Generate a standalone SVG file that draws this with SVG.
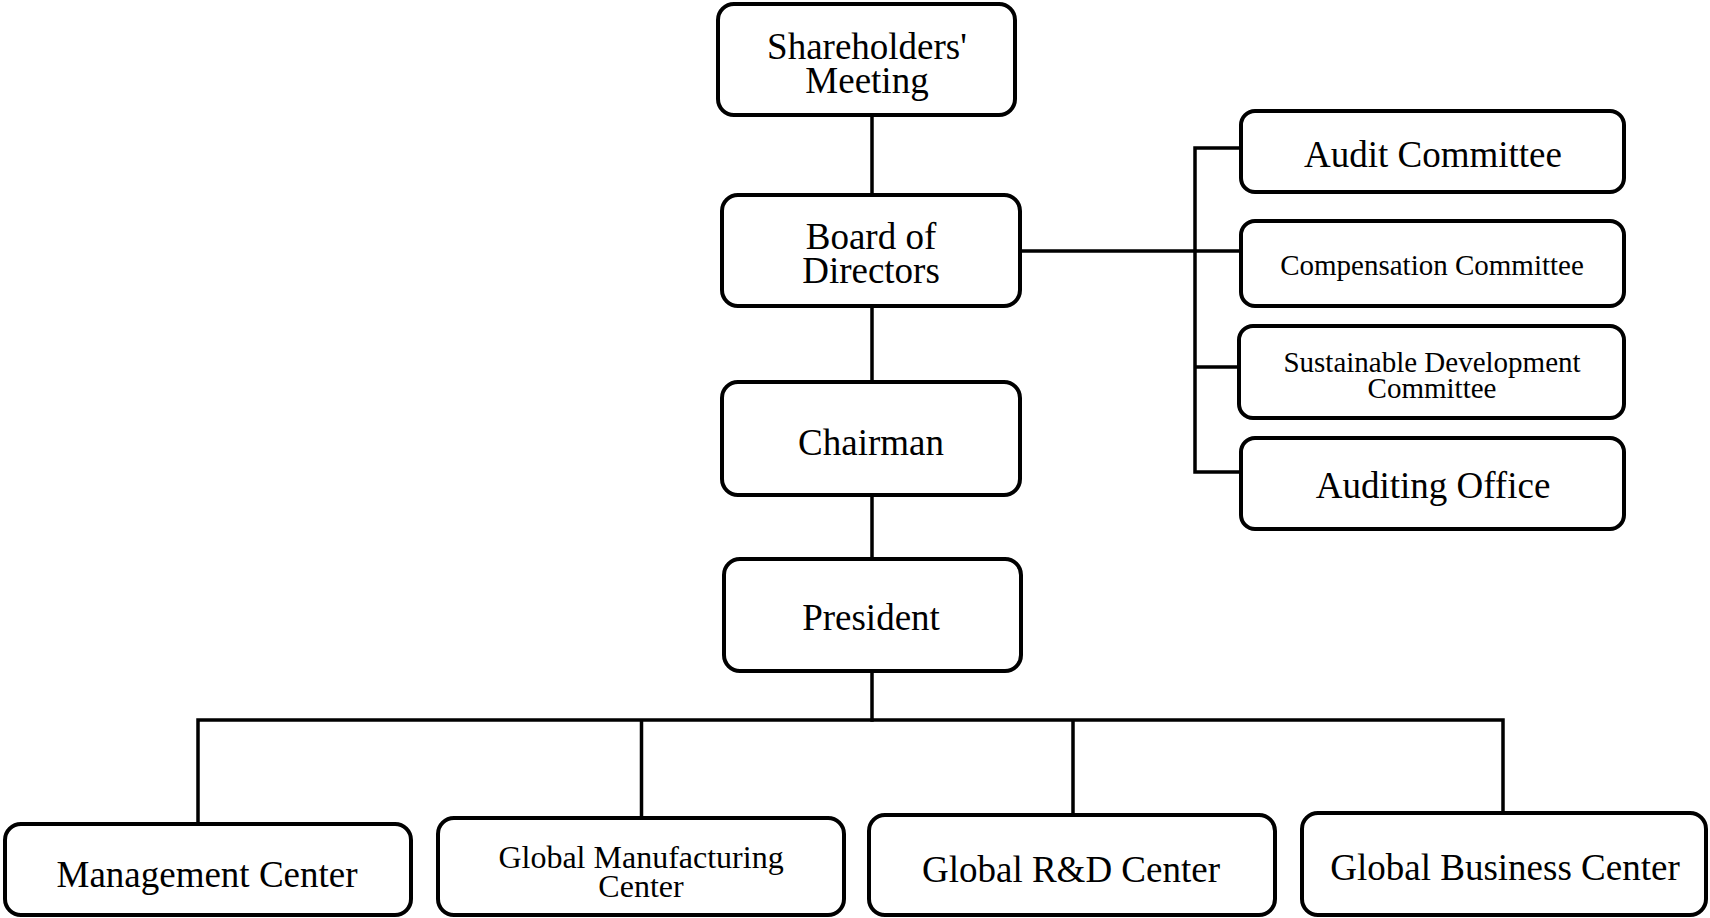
<svg xmlns="http://www.w3.org/2000/svg" width="1710" height="918" viewBox="0 0 1710 918">
<style>
  .box { fill: #ffffff; stroke: #000000; stroke-width: 4; }
  .conn { fill: none; stroke: #000000; stroke-width: 3.5; stroke-linecap: square; }
  text { font-family: "Liberation Serif", "Times New Roman", serif; fill: #000000; text-anchor: middle; }
  .big { font-size: 37px; }
  .mid { font-size: 32px; }
  .small { font-size: 29px; }
</style>
<rect width="1710" height="918" fill="#ffffff"/>
<g id="connectors">
  <path class="conn" d="M872 116 V193 M872 307 V380 M872 497 V557 M872 673 V720"/>
  <path class="conn" d="M198 720 H1503 M198 720 V822 M641.5 720 V816 M1073 720 V813 M1503 720 V811"/>
  <path class="conn" d="M1021 251 H1195 M1195 148 V472 M1195 148 H1240 M1195 251 H1240 M1195 367 H1237 M1195 472 H1240"/>
</g>
<g id="shareholders">
  <rect class="box" x="718" y="4" width="297" height="111" rx="16"/>
  <text class="big"><tspan x="867" y="59">Shareholders'</tspan><tspan x="867" y="93">Meeting</tspan></text>
</g>
<g id="board">
  <rect class="box" x="722" y="195" width="298" height="111" rx="16"/>
  <text class="big"><tspan x="871" y="249">Board of</tspan><tspan x="871" y="283">Directors</tspan></text>
</g>
<g id="chairman">
  <rect class="box" x="722" y="382" width="298" height="113" rx="16"/>
  <text class="big" x="871" y="455">Chairman</text>
</g>
<g id="president">
  <rect class="box" x="724" y="559" width="297" height="112" rx="16"/>
  <text class="big" x="871" y="630">President</text>
</g>
<g id="audit-committee">
  <rect class="box" x="1241" y="111" width="383" height="81" rx="14"/>
  <text class="big" x="1433" y="167">Audit Committee</text>
</g>
<g id="compensation-committee">
  <rect class="box" x="1241" y="221" width="383" height="85" rx="14"/>
  <text class="small" x="1432" y="275">Compensation Committee</text>
</g>
<g id="sustainable-committee">
  <rect class="box" x="1239" y="326" width="385" height="92" rx="14"/>
  <text class="small"><tspan x="1432" y="372">Sustainable Development</tspan><tspan x="1432" y="398">Committee</tspan></text>
</g>
<g id="auditing-office">
  <rect class="box" x="1241" y="438" width="383" height="91" rx="14"/>
  <text class="big" x="1433" y="498">Auditing Office</text>
</g>
<g id="management-center">
  <rect class="box" x="5" y="824" width="406" height="91" rx="16"/>
  <text class="big" x="207" y="887">Management Center</text>
</g>
<g id="manufacturing-center">
  <rect class="box" x="438" y="818" width="406" height="97" rx="16"/>
  <text class="mid"><tspan x="641" y="868">Global Manufacturing</tspan><tspan x="641" y="897">Center</tspan></text>
</g>
<g id="rd-center">
  <rect class="box" x="869" y="815" width="406" height="100" rx="16"/>
  <text class="big" x="1071" y="882">Global R&amp;D Center</text>
</g>
<g id="business-center">
  <rect class="box" x="1302" y="813" width="404" height="102" rx="16"/>
  <text class="big" x="1505" y="880">Global Business Center</text>
</g>
</svg>
